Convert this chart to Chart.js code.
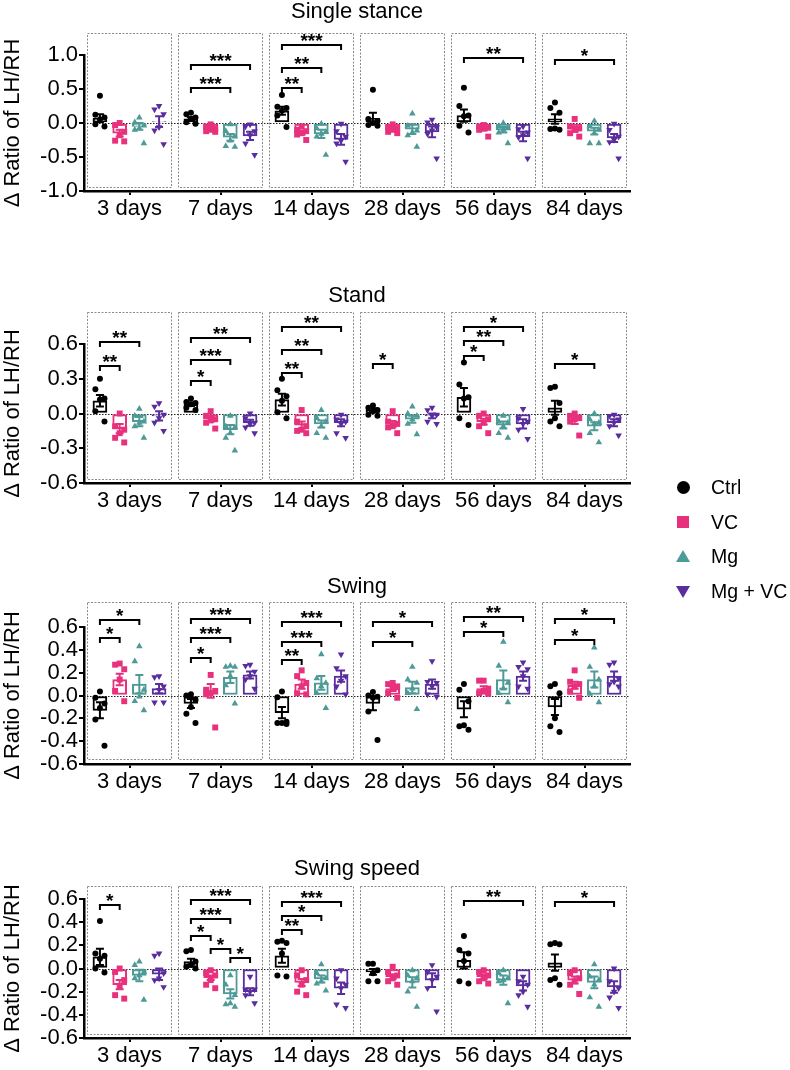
<!DOCTYPE html>
<html>
<head>
<meta charset="utf-8">
<script src="https://cdn.jsdelivr.net/npm/chart.js@4.4.1/dist/chart.umd.min.js"></script>
<style>
  html, body { margin: 0; padding: 0; background: #fff; overflow: hidden; }
  body { width: 790px; height: 1070px; position: relative; font-family: "Liberation Sans", Arial, sans-serif; }
  canvas { position: absolute; left: 0; }
  #legend { position: absolute; left: 670px; top: 470px; width: 120px; height: 140px; z-index: 2; }
  .item { position: absolute; left: 0; width: 120px; height: 30px; }
  .item span { position: absolute; left: 41px; top: 0; font-size: 19.5px; line-height: 30px; color: #000; white-space: nowrap; }
  .mk { position: absolute; }
  .dot { left: 7px; top: 9px; width: 13px; height: 13px; border-radius: 50%; background: #000; }
  .sq { left: 7px; top: 9px; width: 12px; height: 12px; background: #e8317d; }
  .up { left: 6px; top: 9px; width: 0; height: 0; border-left: 7px solid transparent; border-right: 7px solid transparent; border-bottom: 12px solid #4d9a97; }
  .down { left: 6px; top: 10px; width: 0; height: 0; border-left: 7px solid transparent; border-right: 7px solid transparent; border-top: 12px solid #5a2d9e; }
</style>
</head>
<body>
<canvas id="c1" width="790" height="231" style="top:0px"></canvas>
<canvas id="c2" width="790" height="293" style="top:230px"></canvas>
<canvas id="c3" width="790" height="281" style="top:523px"></canvas>
<canvas id="c4" width="790" height="218" style="top:860px"></canvas>

<div id="legend">
  <div class="item" style="top:2px"><div class="mk dot"></div><span>Ctrl</span></div>
  <div class="item" style="top:37px"><div class="mk sq"></div><span>VC</span></div>
  <div class="item" style="top:71px"><div class="mk up"></div><span>Mg</span></div>
  <div class="item" style="top:106px"><div class="mk down"></div><span>Mg + VC</span></div>
</div>

<script>
// categories / groups
const days = ['3 days', '7 days', '14 days', '28 days', '56 days', '84 days'];
const groups = ['Ctrl', 'VC', 'Mg', 'Mg + VC'];

// ---- Single stance ----  rows: Ctrl, VC, Mg, Mg+VC ; columns: days
const ssTicks = [-1.0, -0.5, 0.0, 0.5, 1.0];
const ssMean = [
  [0.07, 0.06, 0.18, 0.07, 0.11, 0.06],
  [-0.15, -0.08, -0.14, -0.09, -0.08, -0.09],
  [-0.05, -0.21, -0.16, -0.09, -0.10, -0.12],
  [0.02, -0.19, -0.24, -0.13, -0.20, -0.22]
];
const ssSem = [
  [0.06, 0.025, 0.06, 0.08, 0.09, 0.07],
  [0.05, 0.02, 0.03, 0.02, 0.03, 0.04],
  [0.05, 0.05, 0.06, 0.07, 0.04, 0.05],
  [0.08, 0.06, 0.08, 0.08, 0.07, 0.06]
];
const ssPoints = [
  [[0.40, 0.12, 0.08, 0.05, -0.02, -0.05], [0.15, 0.13, 0.08, 0.06, 0.01, -0.01], [0.41, 0.24, 0.22, 0.18, 0.11, -0.06],
   [0.49, 0.06, 0.03, 0.0, -0.03, -0.04], [0.52, 0.25, 0.11, 0.10, -0.04, -0.14], [0.30, 0.22, 0.15, -0.08, -0.09, -0.10]],
  [[0.0, -0.03, -0.13, -0.18, -0.26, -0.27], [-0.02, -0.05, -0.08, -0.10, -0.12, -0.13], [-0.05, -0.10, -0.12, -0.15, -0.17, -0.25],
   [-0.02, -0.06, -0.08, -0.10, -0.13, -0.15], [-0.03, -0.05, -0.07, -0.08, -0.10, -0.20], [0.06, -0.05, -0.08, -0.10, -0.15, -0.20]],
  [[0.08, 0.01, -0.04, -0.08, -0.10, -0.30], [-0.02, -0.12, -0.20, -0.26, -0.34, -0.35], [-0.01, -0.08, -0.13, -0.16, -0.20, -0.47],
   [0.14, -0.04, -0.11, -0.14, -0.18, -0.35], [0.0, -0.05, -0.08, -0.10, -0.14, -0.30], [0.03, -0.05, -0.10, -0.15, -0.30, -0.30]],
  [[0.25, 0.20, 0.13, -0.06, -0.11, -0.31], [-0.02, -0.05, -0.12, -0.18, -0.30, -0.47], [-0.01, -0.12, -0.20, -0.26, -0.30, -0.57],
   [0.05, 0.01, -0.06, -0.11, -0.16, -0.52], [-0.05, -0.09, -0.14, -0.18, -0.21, -0.52], [-0.01, -0.10, -0.20, -0.25, -0.28, -0.52]]
];
// [day, from group, to group, height, stars]
const ssStars = [
  [1, 0, 2, 0.51, '***'], [1, 0, 3, 0.855, '***'],
  [2, 0, 1, 0.51, '**'], [2, 0, 2, 0.81, '**'], [2, 0, 3, 1.145, '***'],
  [4, 0, 3, 0.95, '**'], [5, 0, 3, 0.93, '*']
];

// ---- Stand ----
const stTicks = [-0.6, -0.3, 0.0, 0.3, 0.6];
const stMean = [
  [0.11, 0.08, 0.12, 0.03, 0.14, 0.05],
  [-0.13, -0.05, -0.10, -0.09, -0.07, -0.06],
  [-0.07, -0.14, -0.09, -0.05, -0.10, -0.11],
  [-0.02, -0.08, -0.08, -0.02, -0.09, -0.08]
];
const stSem = [
  [0.05, 0.015, 0.05, 0.015, 0.08, 0.06],
  [0.04, 0.02, 0.03, 0.025, 0.025, 0.03],
  [0.04, 0.04, 0.03, 0.03, 0.03, 0.035],
  [0.04, 0.025, 0.03, 0.02, 0.04, 0.03]
];
const stPoints = [
  [[0.30, 0.21, 0.13, 0.12, 0.02, -0.07], [0.13, 0.10, 0.09, 0.08, 0.05, 0.03], [0.30, 0.20, 0.15, 0.11, 0.01, -0.04],
   [0.07, 0.05, 0.03, 0.02, -0.01, -0.02], [0.44, 0.25, 0.14, 0.13, -0.04, -0.10], [0.23, 0.22, 0.09, -0.04, -0.07, -0.11]],
  [[0.0, -0.11, -0.14, -0.17, -0.21, -0.25], [0.02, -0.02, -0.05, -0.06, -0.08, -0.13], [0.03, -0.07, -0.11, -0.14, -0.15, -0.17],
   [0.02, -0.07, -0.09, -0.11, -0.12, -0.17], [0.0, -0.02, -0.05, -0.08, -0.11, -0.17], [0.0, -0.02, -0.04, -0.05, -0.07, -0.19]],
  [[0.04, -0.02, -0.07, -0.08, -0.11, -0.21], [-0.02, -0.11, -0.12, -0.17, -0.21, -0.32], [0.03, -0.04, -0.07, -0.11, -0.17, -0.21],
   [0.06, 0.0, -0.02, -0.05, -0.09, -0.18], [-0.02, -0.07, -0.08, -0.11, -0.17, -0.21], [0.0, -0.05, -0.08, -0.09, -0.17, -0.25]],
  [[0.09, 0.06, -0.01, -0.04, -0.08, -0.15], [0.0, -0.04, -0.08, -0.09, -0.12, -0.17], [-0.01, -0.05, -0.07, -0.09, -0.17, -0.21],
   [0.05, 0.03, -0.01, -0.02, -0.07, -0.09], [0.04, -0.04, -0.07, -0.09, -0.14, -0.22], [-0.01, -0.02, -0.05, -0.08, -0.11, -0.19]]
];
const stStars = [
  [0, 0, 1, 0.41, '**'], [0, 0, 2, 0.62, '**'],
  [1, 0, 1, 0.28, '*'], [1, 0, 2, 0.46, '***'], [1, 0, 3, 0.65, '**'],
  [2, 0, 1, 0.35, '**'], [2, 0, 2, 0.55, '**'], [2, 0, 3, 0.75, '**'],
  [3, 0, 1, 0.43, '*'],
  [4, 0, 1, 0.50, '*'], [4, 0, 2, 0.63, '**'], [4, 0, 3, 0.75, '*'],
  [5, 0, 2, 0.43, '*']
];

// ---- Swing ----
const swTicks = [-0.6, -0.4, -0.2, 0.0, 0.2, 0.4, 0.6];
const swMean = [
  [-0.13, -0.07, -0.15, -0.07, -0.12, -0.10],
  [0.14, 0.04, 0.10, 0.06, 0.06, 0.09],
  [0.10, 0.16, 0.11, 0.07, 0.14, 0.14],
  [0.06, 0.18, 0.17, 0.10, 0.17, 0.17]
];
const swSem = [
  [0.07, 0.04, 0.05, 0.06, 0.07, 0.07],
  [0.05, 0.06, 0.04, 0.02, 0.02, 0.03],
  [0.08, 0.05, 0.06, 0.05, 0.08, 0.07],
  [0.04, 0.03, 0.05, 0.04, 0.04, 0.04]
];
const swPoints = [
  [[0.035, -0.02, -0.07, -0.11, -0.21, -0.44], [0.01, 0.0, -0.04, -0.10, -0.16, -0.24], [0.035, -0.015, -0.23, -0.24, -0.24, -0.25],
   [0.03, 0.0, -0.01, -0.02, -0.14, -0.39], [0.10, 0.05, -0.05, -0.26, -0.27, -0.30], [0.10, 0.08, 0.02, -0.20, -0.27, -0.32]],
  [[0.28, 0.27, 0.23, 0.14, 0.04, -0.05], [0.18, 0.05, 0.04, 0.02, 0.01, -0.28], [0.22, 0.17, 0.11, 0.08, 0.02, 0.01],
   [0.11, 0.10, 0.08, 0.06, 0.02, -0.02], [0.13, 0.13, 0.06, 0.04, 0.02, 0.015], [0.22, 0.12, 0.10, 0.08, 0.035, -0.02]],
  [[0.43, 0.30, 0.05, -0.01, -0.05, -0.13], [0.26, 0.25, 0.25, 0.17, 0.09, -0.07], [0.36, 0.15, 0.11, 0.08, 0.02, -0.11],
   [0.25, 0.14, 0.11, 0.06, 0.02, -0.12], [0.47, 0.26, 0.11, 0.06, 0.02, -0.06], [0.42, 0.25, 0.14, 0.08, 0.015, -0.06]],
  [[0.17, 0.16, 0.08, 0.05, -0.06, -0.06], [0.27, 0.26, 0.21, 0.17, 0.14, 0.06], [0.36, 0.24, 0.17, 0.13, 0.08, 0.01],
   [0.30, 0.12, 0.11, 0.08, 0.01, -0.01], [0.29, 0.25, 0.23, 0.17, 0.08, 0.06], [0.29, 0.27, 0.15, 0.12, 0.10, 0.08]]
];
const swStars = [
  [0, 0, 1, 0.50, '*'], [0, 0, 2, 0.66, '*'],
  [1, 0, 1, 0.33, '*'], [1, 0, 2, 0.50, '***'], [1, 0, 3, 0.67, '***'],
  [2, 0, 1, 0.31, '**'], [2, 0, 2, 0.47, '***'], [2, 0, 3, 0.64, '***'],
  [3, 0, 2, 0.47, '*'], [3, 0, 3, 0.64, '*'],
  [4, 0, 2, 0.56, '*'], [4, 0, 3, 0.69, '**'],
  [5, 0, 2, 0.49, '*'], [5, 0, 3, 0.67, '*']
];

// ---- Swing speed ----
const spTicks = [-0.6, -0.4, -0.2, 0.0, 0.2, 0.4, 0.6];
const spMean = [
  [0.10, 0.06, 0.11, -0.03, 0.07, 0.05],
  [-0.14, -0.08, -0.12, -0.07, -0.07, -0.10],
  [-0.06, -0.22, -0.09, -0.12, -0.10, -0.12],
  [-0.05, -0.20, -0.17, -0.10, -0.15, -0.16]
];
const spSem = [
  [0.07, 0.025, 0.06, 0.025, 0.07, 0.07],
  [0.04, 0.02, 0.03, 0.02, 0.02, 0.03],
  [0.05, 0.04, 0.03, 0.045, 0.04, 0.05],
  [0.05, 0.03, 0.05, 0.06, 0.04, 0.05]
];
const spPoints = [
  [[0.41, 0.13, 0.11, 0.085, 0.0, -0.035], [0.16, 0.15, 0.06, 0.03, 0.015, 0.0], [0.24, 0.23, 0.22, 0.13, -0.06, -0.07],
   [0.04, 0.04, -0.015, -0.04, -0.11, -0.11], [0.28, 0.16, 0.13, 0.065, -0.11, -0.13], [0.22, 0.21, 0.21, -0.085, -0.10, -0.14]],
  [[0.0, -0.03, -0.10, -0.16, -0.23, -0.26], [-0.015, -0.04, -0.06, -0.10, -0.14, -0.17], [-0.015, -0.06, -0.10, -0.14, -0.20, -0.23],
   [0.015, -0.03, -0.06, -0.085, -0.11, -0.14], [-0.015, -0.03, -0.06, -0.085, -0.11, -0.13], [-0.015, -0.04, -0.085, -0.11, -0.14, -0.22]],
  [[0.06, 0.03, -0.03, -0.06, -0.085, -0.27], [-0.06, -0.14, -0.23, -0.30, -0.31, -0.33], [0.035, -0.04, -0.085, -0.11, -0.13, -0.19],
   [-0.015, -0.06, -0.085, -0.11, -0.20, -0.33], [-0.015, -0.04, -0.085, -0.10, -0.11, -0.30], [0.035, -0.07, -0.10, -0.14, -0.25, -0.33]],
  [[0.13, 0.11, -0.04, -0.085, -0.10, -0.16], [-0.07, -0.18, -0.18, -0.20, -0.23, -0.30], [-0.015, -0.085, -0.14, -0.17, -0.31, -0.34],
   [0.03, -0.03, -0.07, -0.10, -0.17, -0.37], [-0.07, -0.11, -0.14, -0.20, -0.23, -0.33], [0.0, -0.11, -0.17, -0.20, -0.25, -0.34]]
];
const spStars = [
  [0, 0, 1, 0.55, '*'],
  [1, 0, 1, 0.28, '*'], [1, 1, 2, 0.17, '*'], [1, 2, 3, 0.09, '*'], [1, 0, 2, 0.43, '***'], [1, 0, 3, 0.59, '***'],
  [2, 0, 1, 0.33, '**'], [2, 0, 2, 0.45, '*'], [2, 0, 3, 0.57, '***'],
  [4, 0, 3, 0.58, '**'],
  [5, 0, 3, 0.57, '*']
];

// styles
const FONT = "'Liberation Sans', Arial, sans-serif";
const colors = ['#000000', '#e8317d', '#4d9a97', '#5a2d9e'];
const shapes = ['circle', 'rect', 'triangle', 'triangle'];
const radii = [3, 4.2, 3.8, 3.8];
const groupShift = [-0.325, -0.108, 0.108, 0.325];   // bar centres inside a day, in day units
const jitter = [0, -0.05, 0.05, 0, -0.05, 0.05];

const panels = [
  { id: 'c1', title: 'Single stance', titleY: 18, padTop: 55, ticks: ssTicks, mean: ssMean, sem: ssSem, points: ssPoints, stars: ssStars, boxTop: 1.32, boxBottom: -0.945 },
  { id: 'c2', title: 'Stand', titleY: 72, padTop: 114, ticks: stTicks, mean: stMean, sem: stSem, points: stPoints, stars: stStars, boxTop: 0.877, boxBottom: -0.566 },
  { id: 'c3', title: 'Swing', titleY: 70, padTop: 104, ticks: swTicks, mean: swMean, sem: swSem, points: swPoints, stars: swStars, boxTop: 0.816, boxBottom: -0.56 },
  { id: 'c4', title: 'Swing speed', titleY: 15, padTop: 39, ticks: spTicks, mean: spMean, sem: spSem, points: spPoints, stars: spStars, boxTop: 0.712, boxBottom: -0.566 }
];

// dashed boxes, zero line, error bars, brackets and the panel title
function decorPlugin(p) {
  return {
    id: 'decor_' + p.id,
    beforeDatasetsDraw(chart) {
      const { ctx, chartArea, scales } = chart;
      const x = scales.x, y = scales.y;
      const half = (x.getPixelForValue(1) - x.getPixelForValue(0)) * 0.462;
      ctx.save();
      ctx.strokeStyle = '#8a8a8a';
      ctx.lineWidth = 1;
      ctx.setLineDash([2, 1.5]);
      const top = Math.round(y.getPixelForValue(p.boxTop)) + 0.5;
      const bot = Math.round(y.getPixelForValue(p.boxBottom)) + 0.5;
      days.forEach((d, i) => {
        const cx = x.getPixelForValue(i);
        ctx.strokeRect(Math.round(cx - half) + 0.5, top, Math.round(half * 2), bot - top);
      });
      // zero line
      ctx.strokeStyle = '#222';
      ctx.setLineDash([1.5, 1.5]);
      const y0 = Math.round(y.getPixelForValue(0)) + 0.5;
      ctx.beginPath();
      ctx.moveTo(chartArea.left, y0);
      ctx.lineTo(chartArea.right, y0);
      ctx.stroke();
      ctx.restore();
    },
    afterDatasetsDraw(chart) {
      const { ctx, chartArea, scales } = chart;
      const y = scales.y;
      ctx.save();
      // error bars (mean ± SEM)
      ctx.lineWidth = 2;
      for (let k = 0; k < groups.length; k++) {
        const meta = chart.getDatasetMeta(k);
        ctx.strokeStyle = colors[k];
        meta.data.forEach((bar, d) => {
          const y1 = y.getPixelForValue(p.mean[k][d] + p.sem[k][d]);
          const y2 = y.getPixelForValue(p.mean[k][d] - p.sem[k][d]);
          ctx.beginPath();
          ctx.moveTo(bar.x, y1); ctx.lineTo(bar.x, y2);
          ctx.moveTo(bar.x - 4, y1); ctx.lineTo(bar.x + 4, y1);
          ctx.moveTo(bar.x - 4, y2); ctx.lineTo(bar.x + 4, y2);
          ctx.stroke();
        });
      }
      // significance brackets
      ctx.strokeStyle = '#000';
      ctx.fillStyle = '#000';
      ctx.font = 'bold 19px ' + FONT;
      ctx.textAlign = 'center';
      ctx.textBaseline = 'alphabetic';
      p.stars.forEach(([d, a, b, v, label]) => {
        const xa = chart.getDatasetMeta(a).data[d].x;
        const xb = chart.getDatasetMeta(b).data[d].x;
        const yy = Math.round(y.getPixelForValue(v));
        ctx.beginPath();
        ctx.moveTo(xa, yy + 5); ctx.lineTo(xa, yy); ctx.lineTo(xb, yy); ctx.lineTo(xb, yy + 5);
        ctx.stroke();
        ctx.fillText(label, (xa + xb) / 2, yy + 1.5);
      });
      // title
      ctx.font = '22px ' + FONT;
      ctx.fillText(p.title, (chartArea.left + chartArea.right) / 2, p.titleY);
      ctx.restore();
    }
  };
}

function makeChart(p) {
  const datasets = [];
  groups.forEach((g, k) => {
    datasets.push({
      type: 'bar',
      label: g,
      data: p.mean[k].map((m, d) => ({ x: d + groupShift[k], y: m })),
      backgroundColor: '#ffffff',
      borderColor: colors[k],
      borderWidth: 2,
      borderSkipped: false,
      grouped: false,
      barThickness: 14,
      order: 2
    });
  });
  groups.forEach((g, k) => {
    const pts = [];
    p.points[k].forEach((vals, d) => {
      vals.forEach((v, j) => pts.push({ x: d + groupShift[k] + jitter[j], y: v }));
    });
    datasets.push({
      type: 'scatter',
      label: g + ' (individual)',
      data: pts,
      pointStyle: shapes[k],
      pointRotation: k === 3 ? 180 : 0,
      pointRadius: radii[k],
      pointBackgroundColor: colors[k],
      pointBorderColor: colors[k],
      pointBorderWidth: 0,
      order: 1
    });
  });

  const config = {
    type: 'bar',
    data: { datasets: datasets },
    options: {
      responsive: false,
      animation: false,
      events: [],
      layout: { padding: { top: p.padTop, left: 0, right: 160, bottom: 0 } },
      scales: {
        x: {
          type: 'linear',
          offset: false,
          min: -0.5,
          max: days.length - 0.5,
          afterBuildTicks: (s) => { s.ticks = days.map((d, i) => ({ value: i })); },
          afterFit: (s) => { s.height = 40; },
          grid: { display: true, drawOnChartArea: false, drawTicks: true, tickLength: 4, offset: false, color: '#000', lineWidth: 2 },
          border: { display: true, color: '#000', width: 2.5 },
          ticks: { color: '#000', font: { size: 22, family: FONT }, padding: 1, maxRotation: 0, autoSkip: false,
                   callback: (v) => days[v] }
        },
        y: {
          type: 'linear',
          min: p.ticks[0],
          max: p.ticks[p.ticks.length - 1],
          afterBuildTicks: (s) => { s.ticks = p.ticks.map(v => ({ value: v })); },
          afterFit: (s) => { s.width = 84; },
          grid: { drawOnChartArea: false, drawTicks: true, tickLength: 5, color: '#000', lineWidth: 2 },
          border: { display: true, color: '#000', width: 2.5 },
          ticks: { color: '#000', font: { size: 22, family: FONT }, padding: 1, autoSkip: false,
                   callback: (v) => Number(v).toFixed(1) },
          title: { display: true, text: 'Δ Ratio of LH/RH', color: '#000', font: { size: 22, family: FONT }, padding: 0 }
        }
      },
      plugins: {
        legend: { display: false },
        tooltip: { enabled: false }
      }
    },
    plugins: [decorPlugin(p)]
  };

  new Chart(document.getElementById(p.id), config);
}

document.addEventListener('DOMContentLoaded', function() {
  panels.forEach(makeChart);
});
</script>
</body>
</html>
